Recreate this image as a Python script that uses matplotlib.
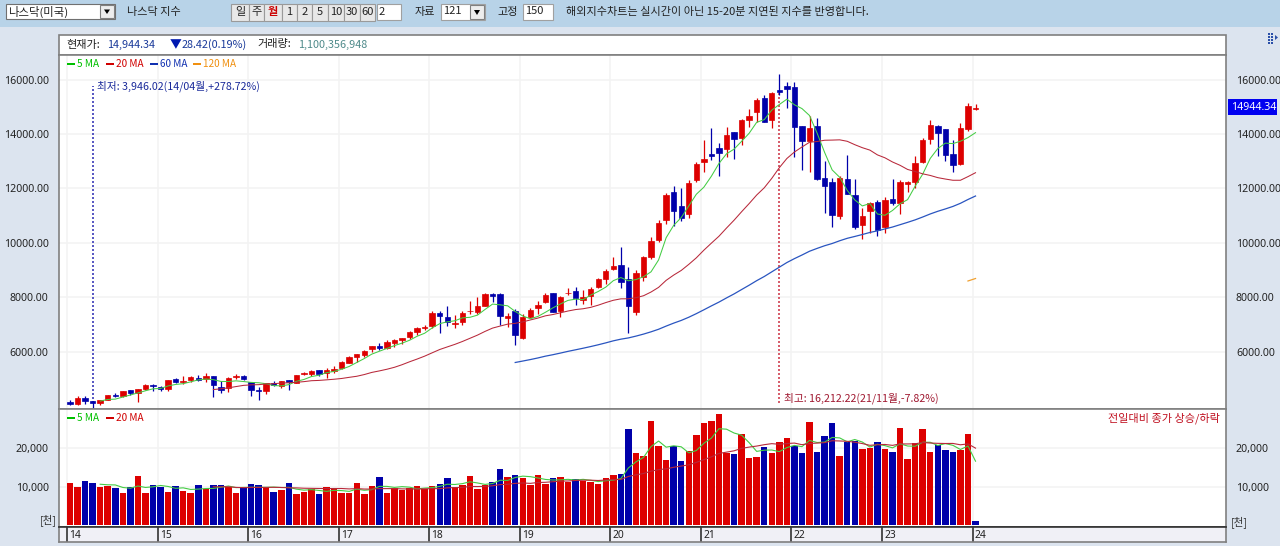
import numpy as np
import matplotlib
matplotlib.use("Agg")
import matplotlib.pyplot as plt
from matplotlib.patches import Rectangle

# ---------- data ----------
year_labels = ["14", "15", "16", "17", "18", "19", "20", "21", "22", "23", "24"]
year_start = [0, 12, 24, 36, 48, 60, 72, 84, 96, 108, 120]

opens = [4144, 4097, 4321, 4215, 4127, 4247, 4413, 4380, 4590, 4501, 4640, 4795,
         4730, 4631, 5010, 4900, 4952, 5060, 5000, 5120, 4700, 4690, 5080, 5130,
         4897, 4620, 4547, 4860, 4760, 4960, 4860, 5180, 5200, 5330, 5220, 5300,
         5425, 5600, 5830, 5880, 6090, 6200, 6150, 6340, 6450, 6540, 6745, 6880,
         6950, 7420, 7300, 7039, 7090, 7490, 7470, 7700, 8130, 8130, 7250, 7486,
         6506, 7280, 7600, 7830, 8160, 7490, 8150, 8220, 7900, 8050, 8380, 8680,
         9050, 9190, 8667, 7459, 8740, 9490, 10100, 10830, 11861, 11350, 11060, 12300,
         12980, 13270, 13470, 13440, 14080, 13840, 14510, 14790, 15330, 14510, 15610, 15770,
         15732, 14290, 13740, 14290, 12370, 12230, 11000, 12350, 11750, 10650, 11170, 11510,
         10590, 11630, 11470, 12150, 12250, 12960, 13810, 14290, 14170, 13260, 12890, 14170,
         14930]
highs = [4246, 4365, 4371, 4215, 4247, 4421, 4486, 4580, 4610, 4641, 4810, 4814,
         4764, 4965, 5042, 5120, 5111, 5164, 5232, 5120, 4920, 5074, 5176, 5164,
         4898, 4697, 4870, 4919, 4948, 4966, 5166, 5272, 5344, 5340, 5399, 5487,
         5669, 5867, 5928, 6075, 6221, 6321, 6422, 6460, 6500, 6759, 6914, 7003,
         7505, 7500, 7670, 7350, 7500, 7860, 8000, 8150, 8150, 8150, 7430, 7570,
         7409, 7600, 7870, 8176, 8180, 8040, 8340, 8370, 8280, 8375, 8710, 9050,
         9490, 9860, 9110, 9000, 9523, 10222, 10840, 11830, 12090, 12010, 12300, 12973,
         13770, 14220, 13680, 14240, 14080, 14560, 14900, 15310, 15430, 15530, 16212, 15900,
         15920, 14300, 14670, 14570, 13010, 12390, 12470, 13220, 12330, 11290, 11520, 11570,
         11690, 12330, 12294, 12270, 13200, 13850, 14510, 14320, 14170, 13780, 14420, 15150,
         15090]
lows = [4050, 4033, 4100, 3946, 4050, 4232, 4333, 4327, 4420, 4160, 4620, 4547,
        4563, 4560, 4858, 4809, 4900, 4940, 4910, 4350, 4487, 4542, 4998, 4968,
        4400, 4250, 4470, 4760, 4672, 4620, 4850, 5150, 5125, 5134, 5034, 5224,
        5372, 5580, 5633, 5805, 5996, 6086, 6125, 6177, 6280, 6490, 6630, 6790,
        6890, 6680, 6940, 6870, 6990, 7400, 7410, 7690, 7850, 6980, 6910, 6240,
        6457, 7250, 7380, 7800, 7450, 7292, 8090, 7710, 7770, 7710, 8340, 8480,
        9000, 8330, 6680, 7340, 8600, 9403, 10040, 10700, 10620, 10822, 10920, 12250,
        12600, 13040, 12450, 13170, 13080, 13600, 14240, 14450, 14432, 14210, 15450, 14940,
        13160, 12670, 12610, 12300, 11100, 10590, 10880, 11802, 10519, 10130, 10370, 10260,
        10350, 11380, 11050, 11880, 12000, 12950, 13630, 13190, 13010, 12600, 12880, 14100,
        14880]
closes = [4104, 4308, 4199, 4115, 4243, 4408, 4370, 4580, 4493, 4631, 4792, 4736,
          4635, 4964, 4901, 4941, 5070, 4987, 5128, 4777, 4620, 5054, 5109, 5007,
          4614, 4558, 4870, 4775, 4948, 4900, 5162, 5213, 5312, 5189, 5324, 5383,
          5615, 5825, 5912, 6048, 6199, 6140, 6348, 6429, 6496, 6728, 6874, 6903,
          7411, 7310, 7090, 7066, 7442, 7510, 7672, 8110, 8046, 7306, 7331, 6635,
          7282, 7533, 7729, 8095, 7453, 8006, 8175, 7963, 7999, 8292, 8665, 8973,
          9151, 8567, 7700, 8890, 9490, 10059, 10745, 11775, 11168, 10912, 12199, 12888,
          13071, 13192, 13290, 13963, 13800, 14504, 14673, 15259, 14449, 15498, 15538, 15670,
          14240, 13751, 14221, 12335, 12081, 11029, 12391, 11816, 10576, 10988, 11468, 10466,
          11585, 11456, 12222, 12240, 12935, 13788, 14346, 14035, 13219, 12851, 14226, 15011,
          14944]

ma5 = [4194, 4255, 4267, 4343, 4419, 4496, 4573, 4646, 4657, 4752, 4806, 4835, 4902, 4973, 5005, 4981,
       4916, 4913, 4938, 4913, 4881, 4868, 4832, 4765, 4753, 4799, 4920, 4988, 5096, 5144, 5240, 5284,
       5365, 5467, 5612, 5757, 5920, 6025, 6129, 6233, 6322, 6428, 6575, 6686, 6882, 7038, 7105, 7143,
       7251, 7271, 7351, 7560, 7756, 7729, 7693, 7486, 7320, 7217, 7302, 7455, 7618, 7763, 7892, 7938,
       7919, 8087, 8219, 8378, 8616, 8730, 8611, 8656, 8760, 8941, 9377, 10192, 10647, 10932, 11360, 11788,
       12048, 12452, 12919, 13272, 13444, 13731, 14027, 14430, 14527, 14877, 15083, 15278, 15074, 14934, 14679, 14038,
       13326, 12683, 12411, 11930, 11579, 11360, 11448, 11063, 11017, 11193, 11439, 11591, 12085, 12526, 13104, 13466,
       13665, 13648, 13735, 13868, 14050]
ma20 = [4619, 4645, 4682, 4728, 4772, 4791, 4798, 4823, 4833, 4856, 4867, 4885, 4909, 4943, 4954, 4975, 4997,
        5025, 5067, 5106, 5169, 5248, 5303, 5364, 5436, 5530, 5638, 5738, 5845, 5968, 6089, 6184, 6277, 6383,
        6500, 6617, 6753, 6875, 6949, 7020, 7049, 7103, 7173, 7242, 7325, 7373, 7437, 7502, 7555, 7585, 7636,
        7716, 7811, 7896, 7949, 7951, 7990, 8062, 8199, 8370, 8627, 8821, 8991, 9214, 9454, 9735, 9994, 10247,
        10547, 10835, 11146, 11446, 11760, 12025, 12372, 12764, 13101, 13339, 13523, 13697, 13725, 13771, 13777, 13786,
        13733, 13608, 13498, 13409, 13234, 13126, 12973, 12851, 12699, 12623, 12538, 12479, 12398, 12347, 12302, 12302,
        12436, 12579]
ma60 = [5612, 5665, 5719, 5778, 5844, 5898, 5958, 6021, 6078, 6136, 6197, 6262, 6332, 6407, 6468, 6514, 6580,
        6654, 6738, 6832, 6948, 7057, 7156, 7273, 7405, 7546, 7690, 7829, 7982, 8129, 8290, 8449, 8616, 8768,
        8940, 9111, 9281, 9425, 9557, 9696, 9800, 9898, 9980, 10081, 10171, 10239, 10310, 10386, 10445, 10515,
        10585, 10671, 10757, 10848, 10953, 11065, 11163, 11249, 11341, 11456, 11596, 11724]
ma120 = [8604, 8695]

# volume in units of 100 thousand-shares
vol = [110, 98, 116, 110, 98, 103, 96, 83, 100, 127, 84, 105, 100, 87, 103, 90, 84, 105, 94, 105, 105, 100, 84, 97,
       107, 104, 100, 87, 91, 110, 80, 87, 94, 80, 98, 94, 83, 84, 110, 82, 103, 125, 84, 97, 92, 96, 103, 94,
       103, 108, 124, 100, 105, 127, 93, 105, 112, 147, 125, 131, 123, 105, 130, 106, 123, 125, 112, 121, 115, 111,
       108, 123, 130, 133, 251, 187, 181, 272, 205, 171, 205, 168, 193, 235, 266, 272, 291, 187, 185, 238, 174, 177,
       203, 187, 217, 227, 205, 187, 268, 190, 232, 266, 181, 217, 220, 199, 201, 217, 199, 191, 252, 172, 214, 251,
       191, 210, 197, 191, 197, 237, 11]
vol_dir = ("RRBBRRBRBR" "RBBRBRRBRB" "BRRBBBRBRB" "RRRBRRRRRR" "RBRRRRRRRB" "BRRRRRBBRB"
           "RRRRBRRBRR" "RRRBBRRRRR" "BBRRRRRRBR" "RRBRRRBBRB" "BBRBBRRBRB" "RRRRRBBBRRB")
vol_ma5 = [106.4, 105, 104.6, 98, 96, 101.8, 98, 99.8, 103.2, 100.6, 95.8, 97, 92.8, 93.8, 95.2, 95.6, 98.6, 101.8, 97.6,
           98.2, 98.6, 98.4, 98.4, 99, 97.8, 98.4, 93.6, 91, 92.4, 90.2, 87.8, 90.6, 89.8, 87.8, 93.8, 90.6, 92.4, 100.8,
           100.8, 98.2, 100.2, 98.8, 94.4, 96.4, 97.6, 100.8, 106.4, 105.8, 108, 112.8, 109.8, 106, 108.4, 116.8, 116.4,
           124, 127.6, 126.2, 122.8, 119, 117.4, 117.8, 119.2, 117.4, 119.2, 116.8, 113.4, 115.6, 117.4, 121, 149, 164.8,
           176.4, 204.8, 219.2, 203.2, 206.8, 204.2, 188.4, 194.4, 213.4, 226.8, 251.4, 250.2, 240.2, 234.6, 215, 192.2,
           195.4, 195.8, 191.6, 202.2, 207.8, 204.6, 220.8, 215.4, 216.4, 228.6, 227.4, 217.2, 223.2, 216.6, 203.6, 210.8,
           207.2, 201.4, 212, 206.2, 205.6, 216, 216, 207.6, 212.6, 208, 197.2, 206.4, 166.6]
vol_ma20 = [99.9, 99.7, 99.8, 98.2, 97.5, 98, 98, 98.2, 98.4, 98, 97.1, 96.9, 96, 95.7, 95.4, 95.1, 95.3, 95.3, 94.2, 95,
            93.9, 93.8, 95, 95, 95, 94.3, 93.9, 94, 94.4, 95, 94.9, 97.1, 97.7, 98.3, 100.6, 100.4, 100.9, 102.4, 105.5,
            106.3, 108.7, 109.7, 108.7, 111, 111.5, 113, 114.5, 114.9, 116.3, 116.9, 117, 116.2, 117.4, 118.6, 118.9,
            126.8, 130.9, 134.4, 140.6, 144.6, 146.6, 150.7, 153.9, 157, 163.5, 170.6, 178, 186.9, 190.2, 193.7, 200.1,
            203.4, 206.1, 209.7, 212.4, 210.7, 212.7, 213.9, 209.7, 212.8, 213.8, 215.1, 220, 219.4, 218.5, 216.2, 212.6,
            208.1, 209.6, 210.3, 207.9, 211.8, 211.6, 212.1, 215.3, 214, 213.2, 212.8, 213, 209.4, 211.8, 200.7]

price_ticks = [6000, 8000, 10000, 12000, 14000, 16000]
vol_ticks = [10000, 20000]

# ---------- style ----------
W, H = 1280, 546
KR = ["Noto Sans CJK KR", "DejaVu Sans"]
NUM = ["Noto Sans", "DejaVu Sans"]
RED, BLUE = "#DD0000", "#0000AA"
GREEN_MA, RED_MA, BLUE_MA, ORANGE_MA = "#44CC44", "#B8283A", "#2A55C0", "#F0A030"
GRID = "#F3F3F3"
FRAME = "#808080"

fig = plt.figure(figsize=(W / 100, H / 100), dpi=100, facecolor="#DCE4EF")


def px_axes(x0, y0, x1, y1, z):
    return fig.add_axes([x0 / W, 1 - y1 / H, (x1 - x0) / W, (y1 - y0) / H], zorder=z)


bg = px_axes(0, 0, W, H, 0)
bg.set_xlim(0, W); bg.set_ylim(H, 0); bg.axis("off")
fg = px_axes(0, 0, W, H, 10)
fg.set_xlim(0, W); fg.set_ylim(H, 0); fg.axis("off"); fg.patch.set_alpha(0)


def box(ax, x0, y0, x1, y1, fc, ec="none", lw=0.8, z=1):
    ax.add_patch(Rectangle((x0, y0), x1 - x0, y1 - y0, fc=fc, ec=ec, lw=lw, zorder=z))


def label(x, y, s, color="#222222", size=8, ha="left", weight="normal"):
    fg.text(x, y, s, color=color, fontsize=size, ha=ha, va="center", family=KR, fontweight=weight)


# toolbar
box(bg, 0, 0, W, 27, "#B8D3E8")
box(bg, 6, 4, 115, 19, "white", "#707070")
box(bg, 100, 5, 114, 18, "#EDEDED", "#808080")
label(8, 11.5, "나스닥(미국)", size=8.2)
fg.fill([104, 110, 107], [9.5, 9.5, 14], color="black", lw=0)
label(127, 12, "나스닥 지수")
btn_edges = [231, 249, 264, 282, 297, 312, 328, 344, 360, 375]
btn_text = ["일", "주", "월", "1", "2", "5", "10", "30", "60"]
for i, t in enumerate(btn_text):
    box(bg, btn_edges[i], 4, btn_edges[i + 1] - 0.5, 21, "#E8E8E8", "#9A9A9A", 0.8)
    label((btn_edges[i] + btn_edges[i + 1]) / 2, 12, t, ha="center",
          color="#CC0000" if t == "월" else "#222222", weight="bold" if t == "월" else "normal")
box(bg, 377, 4, 401, 20, "white", "#A0A0A0")
label(379, 12, "2")
label(415, 12, "자료")
box(bg, 441, 4, 485, 20, "white", "#A0A0A0")
box(bg, 470, 5, 484, 19, "#EDEDED", "#808080")
fg.fill([474, 480, 477], [10, 10, 15], color="black", lw=0)
label(443, 11.5, "121")
label(497, 12, "고정")
box(bg, 523, 4, 553, 20, "white", "#A0A0A0")
label(525, 11.5, "150")
label(566, 12, "해외지수차트는 실시간이 아닌 15-20분 지연된 지수를 반영합니다.")

# info box
box(bg, 59, 35, 1226, 55, "white", FRAME, 1.2)
label(66, 44.5, "현재가:")
label(107, 44.5, "14,944.34", color="#1A3A9A", size=7.8)
label(170, 45, "▼", color="#0018B0", size=8.5)
label(182, 44.5, "28.42(0.19%)", color="#1A3A9A", size=7.8)
label(257, 44.5, "거래량:")
label(298, 44.5, "1,100,356,948", color="#4E8A8A", size=7.8)
for y_dot in (33, 36, 39, 42):
    for x_dot in (1268, 1271):
        box(fg, x_dot, y_dot, x_dot + 2, y_dot + 2, "#2A4FA8")
fg.fill([1275, 1278, 1275], [35, 37.5, 40], color="#2A4FA8", lw=0)

# axes
x_to_idx = lambda px: (px - 70) / 7.546
xlim = (x_to_idx(59), x_to_idx(1225.5))
n = len(closes)
idx = np.arange(n)
year_pos = [s - 0.4 for s in year_start]

ax = px_axes(59, 55, 1225.5, 409, 2)
ylo = 16000 - (408.5 - 79.5) / 0.0272
yhi = 16000 + (79.5 - 55) / 0.0272
ax.set_xlim(*xlim); ax.set_ylim(ylo, yhi)
ax.set_yticks(price_ticks)
ax.set_yticklabels([f"{t}.00" for t in price_ticks], family=NUM, fontsize=7.6, color="#222222")
ax.tick_params(axis="y", left=False, right=False, labelleft=True, labelright=True, pad=4)
ax.set_xticks(year_pos); ax.set_xticklabels([]); ax.tick_params(axis="x", length=0)
ax.grid(True, color=GRID, lw=1.2, zorder=0); ax.set_axisbelow(True)
for s in ax.spines.values():
    s.set_color(FRAME); s.set_linewidth(1.2)

o, h, l, c = map(np.array, (opens, highs, lows, closes))
col = np.where(c >= o, RED, BLUE)
ax.vlines(idx, l, h, colors=col, lw=0.9, zorder=3)
ax.bar(idx, np.abs(c - o), bottom=np.minimum(o, c), width=0.72, color=col, edgecolor=col, lw=0.5, zorder=4)
ax.plot(idx[4:], ma5, color=GREEN_MA, lw=0.75, zorder=5)
ax.plot(idx[19:], ma20, color=RED_MA, lw=0.75, zorder=5)
ax.plot(idx[59:], ma60, color=BLUE_MA, lw=0.9, zorder=5)
ax.plot(idx[119:], ma120, color=ORANGE_MA, lw=0.9, zorder=5)

# low / high markers
low_i = int(np.argmin(l)); high_i = int(np.argmax(h))
ax.vlines(low_i, 4115, 15760, colors="#3A3AB8", lw=1.2, linestyles=(0, (1.2, 1.2)), zorder=2)
ax.vlines(high_i, 4115, 15540, colors="#D04050", lw=1.2, linestyles=(0, (1.2, 1.2)), zorder=2)
ax.text(low_i + 0.6, 15760, "최저: 3,946.02(14/04월,+278.72%)", color="#1A2A9A", fontsize=7.7,
        family=KR, va="center", ha="left", zorder=6)
ax.text(high_i + 0.6, 4290, "최고: 16,212.22(21/11월,-7.82%)", color="#A01830", fontsize=7.7,
        family=KR, va="center", ha="left", zorder=6)

# price legend
for x0, t, cc in [(67, "5 MA", "#00C000"), (106, "20 MA", "#D00000"), (150, "60 MA", "#1030B0"), (193, "120 MA", "#F09010")]:
    box(fg, x0, 63, x0 + 8, 65, cc)
    label(x0 + 10, 64, t, color=cc, size=7.2)

# current price flag
box(fg, 1228, 99, 1277, 115, "#0000F0")
label(1231, 107, "14944.34", color="white", size=7.6)
fg.texts[-1].set_family(NUM)

# volume
va = px_axes(59, 409, 1225.5, 527, 2)
vlo = -(527 - 525) / 0.00383
vhi = (525 - 409) / 0.00383
va.set_xlim(*xlim); va.set_ylim(vlo, vhi)
va.set_yticks(vol_ticks)
va.set_yticklabels([f"{t:,}" for t in vol_ticks], family=NUM, fontsize=7.6, color="#222222")
va.tick_params(axis="y", left=False, right=False, labelleft=True, labelright=True, pad=4)
va.set_xticks(year_pos); va.set_xticklabels([]); va.tick_params(axis="x", length=0)
va.grid(True, color=GRID, lw=1.2, zorder=0); va.set_axisbelow(True)
for s in va.spines.values():
    s.set_color(FRAME); s.set_linewidth(1.2)
va.spines["bottom"].set_color("#333333")
vv = np.array(vol) * 100.0
vcol = [RED if ch == "R" else BLUE for ch in vol_dir]
va.bar(idx, vv, bottom=0, width=0.86, color=vcol, lw=0, zorder=3)
va.plot(idx[4:], np.array(vol_ma5) * 100, color=GREEN_MA, lw=0.8, zorder=5)
va.plot(idx[19:], np.array(vol_ma20) * 100, color=RED_MA, lw=0.8, zorder=5)
for x0, t, cc in [(67, "5 MA", "#00C000"), (106, "20 MA", "#D00000")]:
    box(fg, x0, 417, x0 + 8, 419, cc)
    label(x0 + 10, 418, t, color=cc, size=7.2)
label(1220, 418, "전일대비 종가 상승/하락", color="#C01020", ha="right")
label(40, 520, "[천]", color="#333333", size=7.6)
label(1231, 522, "[천]", color="#333333", size=7.6)

# date strip
st = px_axes(59, 527, 1225.5, 542, 2)
st.set_facecolor("#F0F0F6")
st.set_xlim(*xlim); st.set_ylim(0, 1); st.set_yticks([])
st.set_xticks(year_pos)
st.set_xticklabels([])
st.tick_params(axis="x", length=0)
st.vlines(year_pos, 0, 1, colors="#333333", lw=1.2)
for p, t in zip(year_pos, year_labels):
    st.text(p + 0.3, 0.45, t, fontsize=7.4, family=NUM, color="#222222", va="center", ha="left")
for name, s in st.spines.items():
    s.set_color(FRAME); s.set_linewidth(1.2)
st.spines["top"].set_color("#333333")

fig.savefig("out.png", dpi=100, facecolor=fig.get_facecolor())
